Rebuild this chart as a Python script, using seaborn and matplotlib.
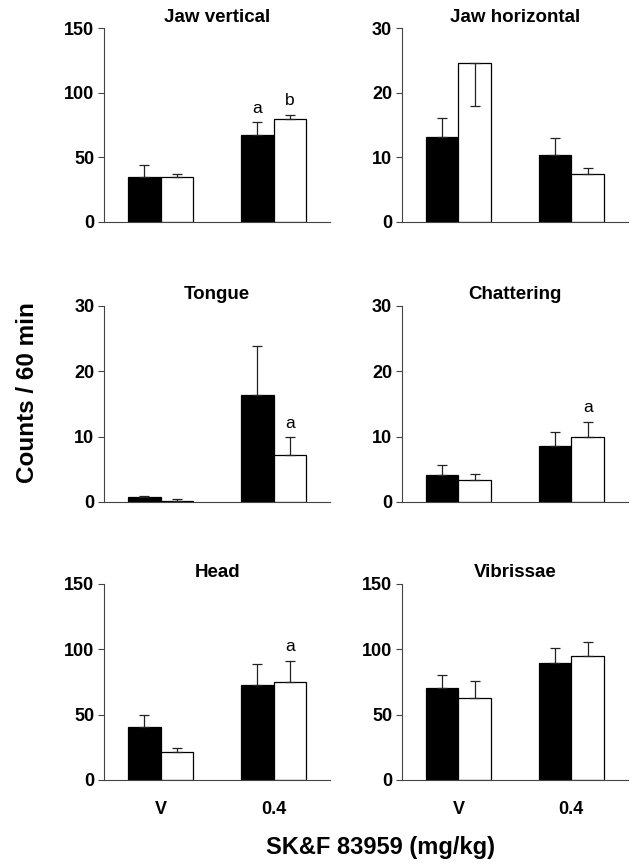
import numpy as np
import pandas as pd
import seaborn as sns
import matplotlib.pyplot as plt

titles = ["Jaw vertical", "Jaw horizontal", "Tongue", "Chattering", "Head", "Vibrissae"]
doses = ["V", "0.4"]
groups = ["filled", "open"]

# mean counts, (V, 0.4) per panel
filled_mean = [[35.2, 67.2], [13.2, 10.4], [0.7, 16.4], [4.2, 8.5], [40.8, 72.5], [70.3, 89.4]]
open_mean = [[35.0, 79.7], [24.7, 7.5], [0.2, 7.2], [3.3, 10.0], [21.5, 75.1], [62.8, 95.0]]
# sem, a negative value means the bar is drawn downwards
filled_sem = [[9.3, 10.1], [2.9, 2.6], [0.2, 7.5], [1.5, 2.2], [9.0, 16.6], [10.4, 11.5]]
open_sem = [[2.5, 3.3], [-6.7, 0.8], [0.2, 2.7], [1.0, 2.3], [3.3, 15.8], [13.1, 10.5]]
# significance letters
filled_marks = [["", "a"], ["", ""], ["", ""], ["", ""], ["", ""], ["", ""]]
open_marks = [["", "b"], ["", ""], ["", "a"], ["", "a"], ["", "a"], ["", ""]]
ymax = [150, 30, 30, 30, 150, 150]

sns.set_style("ticks")
plt.rcParams["font.family"] = ["Liberation Sans", "DejaVu Sans"]
plt.rcParams["font.weight"] = "bold"
for k in ["text.color", "axes.labelcolor", "xtick.labelcolor", "ytick.labelcolor"]:
    plt.rcParams[k] = "black"

fig = plt.figure(figsize=(6.31, 8.65), dpi=100)
lefts = [0.165, 0.637]
rows = [(0.7434, 0.2237), (0.4197, 0.2266), (0.0983, 0.2266)]

for i, title in enumerate(titles):
    r, c = divmod(i, 2)
    ax = fig.add_axes([lefts[c], rows[r][0], 0.358, rows[r][1]])
    df = pd.DataFrame({
        "dose": doses * 2,
        "group": [groups[0]] * 2 + [groups[1]] * 2,
        "count": filled_mean[i] + open_mean[i],
    })
    sns.barplot(data=df, x="dose", y="count", hue="group", order=doses, hue_order=groups,
                palette=["black", "white"], saturation=1, edgecolor="black", linewidth=0.9,
                width=0.58, errorbar=None, legend=False, ax=ax)

    for cont, means, sems, marks in zip(ax.containers,
                                        [filled_mean[i], open_mean[i]],
                                        [filled_sem[i], open_sem[i]],
                                        [filled_marks[i], open_marks[i]]):
        for bar, m, e, mk in zip(cont, means, sems, marks):
            xc = bar.get_x() + bar.get_width() / 2
            yerr = [[0], [e]] if e >= 0 else [[-e], [0]]
            ax.errorbar(xc, m, yerr=yerr, color="#222222", lw=0.9, capsize=3.5,
                        capthick=0.9, zorder=3)
            if mk:
                ax.annotate(mk, (xc, m + max(e, 0)), xytext=(0, 7), textcoords="offset points",
                            ha="center", va="baseline", fontsize=12.5, fontweight="normal")

    ax.set_xlim(-0.5, 1.5)
    ax.set_ylim(0, ymax[i])
    ax.set_yticks(np.linspace(0, ymax[i], 4))
    sns.despine(ax=ax)
    for s in ["left", "bottom"]:
        ax.spines[s].set_color("#444444")
        ax.spines[s].set_linewidth(0.8)
    ax.set_xlabel("")
    ax.set_ylabel("")
    ax.set_title(title, fontsize=13.5, fontweight="bold", pad=5)
    ax.tick_params(axis="x", length=0, pad=15, labelsize=13)
    ax.tick_params(axis="y", length=4, width=0.8, pad=3, labelsize=13, color="#444444")
    if r < 2:
        ax.set_xticklabels([])

fig.text(0.043, 0.546, "Counts / 60 min", rotation=90, ha="center", va="center",
         fontsize=17.5, fontweight="bold")
fig.text(0.603, 0.02, "SK&F 83959 (mg/kg)", ha="center", va="center",
         fontsize=17, fontweight="bold")

fig.savefig("out.png", dpi=100)
